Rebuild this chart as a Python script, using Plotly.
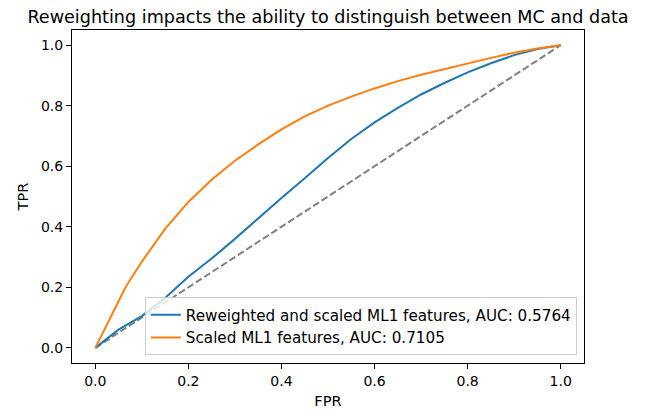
import plotly.graph_objects as go

# Reweighted and scaled ML1 features (AUC 0.5764)
fpr_rw = [0.0, 0.05, 0.1, 0.15, 0.2, 0.25, 0.3, 0.35, 0.4, 0.45, 0.5, 0.55, 0.6, 0.65, 0.7, 0.75, 0.8, 0.85, 0.9, 0.95, 1.0]
tpr_rw = [0.0, 0.06, 0.105, 0.165, 0.235, 0.295, 0.36, 0.428, 0.495, 0.56, 0.627, 0.69, 0.745, 0.793, 0.837, 0.875, 0.91, 0.94, 0.967, 0.987, 1.0]

# Scaled ML1 features (AUC 0.7105)
fpr_sc = [0.0, 0.02, 0.04, 0.065, 0.1, 0.15, 0.2, 0.25, 0.3, 0.35, 0.4, 0.45, 0.5, 0.55, 0.6, 0.65, 0.7, 0.75, 0.8, 0.85, 0.9, 0.95, 1.0]
tpr_sc = [0.0, 0.062, 0.123, 0.2, 0.285, 0.393, 0.482, 0.555, 0.618, 0.672, 0.722, 0.765, 0.8, 0.83, 0.857, 0.881, 0.902, 0.921, 0.94, 0.958, 0.975, 0.989, 1.0]

diag = [0.0, 1.0]

labels = ["Reweighted and scaled ML1 features, AUC: 0.5764",
          "Scaled ML1 features, AUC: 0.7105"]
title = "Reweighting impacts the ability to distinguish between MC and data"
ticks = [0.0, 0.2, 0.4, 0.6, 0.8, 1.0]
tick_text = ["0.0", "0.2", "0.4", "0.6", "0.8", "1.0"]

FONT = "DejaVu Sans, Verdana, sans-serif"

fig = go.Figure()
fig.add_trace(go.Scatter(x=diag, y=diag, mode="lines", showlegend=False,
                         line=dict(color="#808080", width=2, dash="7px,3px"),
                         hoverinfo="skip"))
fig.add_trace(go.Scatter(x=fpr_rw, y=tpr_rw, mode="lines", name=labels[0],
                         line=dict(color="#1f77b4", width=2)))
fig.add_trace(go.Scatter(x=fpr_sc, y=tpr_sc, mode="lines", name=labels[1],
                         line=dict(color="#ff7f0e", width=2)))

axis_common = dict(
    range=[-0.05, 1.05], tickvals=ticks, ticktext=tick_text,
    showgrid=False, zeroline=False, showline=True, linecolor="black",
    linewidth=1, mirror=True, ticks="outside", ticklen=5, tickwidth=1,
    tickcolor="black", tickfont=dict(size=14, color="black", family=FONT),
    automargin=False,
)

fig.update_layout(
    width=659, height=414,
    margin=dict(l=72, r=75, t=30, b=51, pad=0),
    paper_bgcolor="white", plot_bgcolor="white",
    font=dict(family=FONT, size=14, color="black"),
    title=dict(text=title, x=(72 + 584) / 2 / 659, xanchor="center",
               y=1 - 17 / 414, yanchor="middle",
               font=dict(size=17.6, color="black", family=FONT)),
    xaxis=dict(axis_common, title=dict(text="FPR", standoff=7,
                                       font=dict(size=14.6, family=FONT))),
    yaxis=dict(axis_common, title=dict(text="TPR", standoff=8,
                                       font=dict(size=14.6, family=FONT))),
    legend=dict(x=0.986, y=0.023, xanchor="right", yanchor="bottom",
                bgcolor="rgba(255,255,255,0.8)", bordercolor="#cccccc",
                borderwidth=1, font=dict(size=15.2, family=FONT, color="black"),
                itemwidth=30, tracegroupgap=0),
    showlegend=True,
)

fig.write_html("out.html")
